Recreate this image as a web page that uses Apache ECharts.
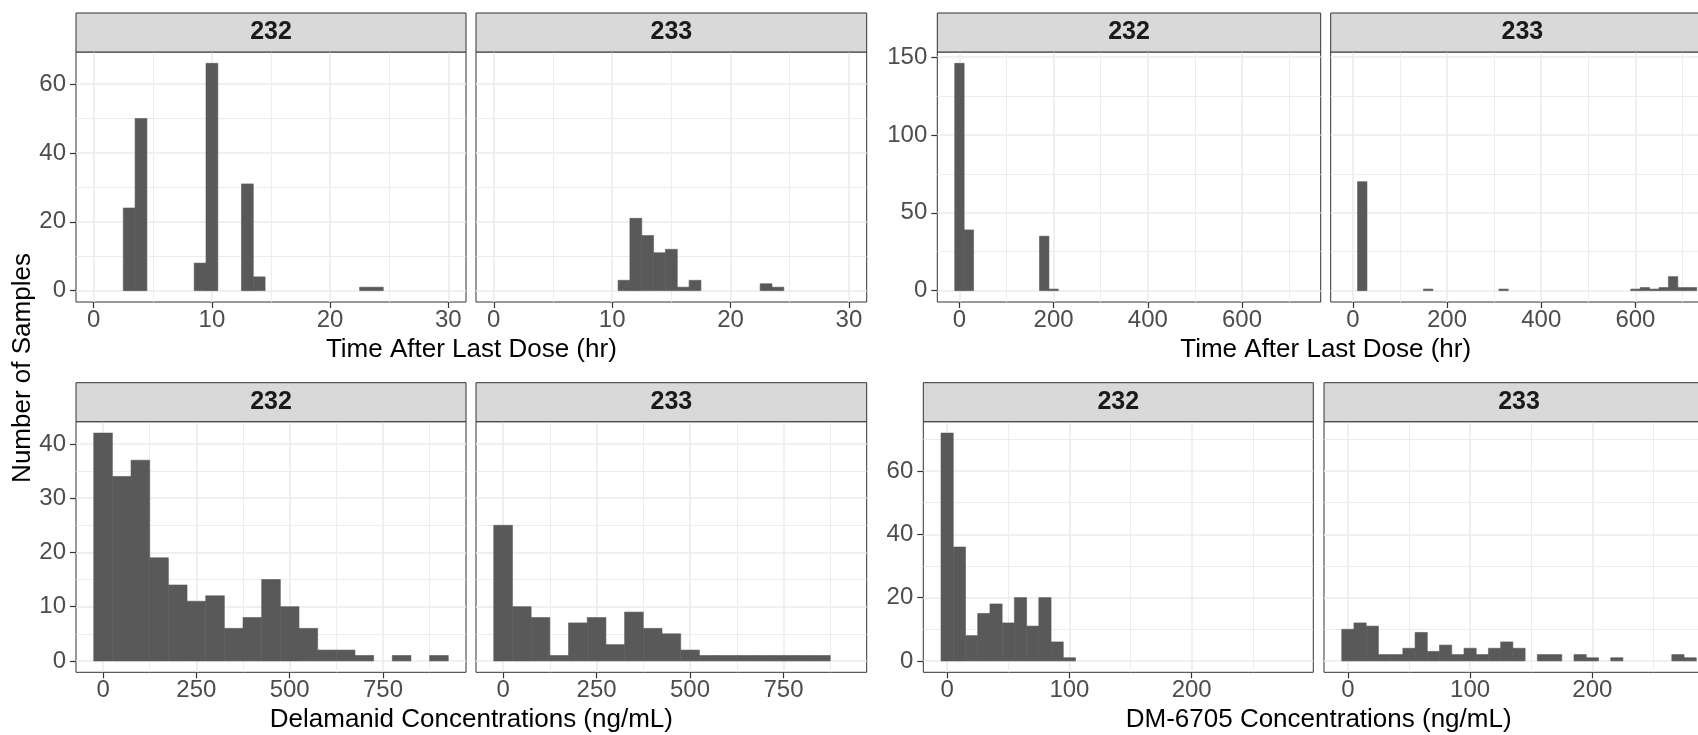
<!DOCTYPE html>
<html>
<head>
<meta charset="utf-8">
<script src="https://cdn.jsdelivr.net/npm/echarts@6/dist/echarts.min.js"></script>
<style>
  html, body { margin: 0; padding: 0; background: #fff; }
  #chart { width: 1698px; height: 735px; }
</style>
</head>
<body>
<div id="chart"></div>
<script>
// ==============================
// data: histogram counts per bin (bin centres = start + i * width)
// ==============================

const studies = ['232', '233'];

// time after last dose, short window (hr) - bin width 1
const tadShortStart = 0;
const tadShortWidth = 1;
const tadShort232 = [0,0,0,24,50,0,0,0,0,8,66,0,0,31,4,0,0,0,0,0,0,0,0,1,1,0,0,0,0,0,0];
const tadShort233 = [0,0,0,0,0,0,0,0,0,0,0,3,21,16,11,12,1,3,0,0,0,0,0,2,1,0,0,0,0,0,0];

// time after last dose, long window (hr) - bin width 20
const tadLongStart = 0;
const tadLongWidth = 20;
const tadLong232 = [146,39, 0,0,0,0,0,0,0, 35,1, 0,0,0,0,0,0,0,0,0,0,0,0,0,0,0,0,0,0,0,0,0,0,0,0,0,0];
const tadLong233 = [0,70, 0,0,0,0,0,0, 1, 0,0,0,0,0,0,0, 1, 0,0,0,0,0,0,0,0,0,0,0,0,0, 1,2,1,2,9,2,2];

// delamanid concentration (ng/mL) - bin width 50
const dlmStart = 0;
const dlmWidth = 50;
const dlm232 = [42,34,37,19,14,11,12,6,8,15,10,6,2,2,1,0,1,0,1];
const dlm233 = [25,10,8,1,7,8,3,9,6,5,2,1,1,1,1,1,1,1,0];

// DM-6705 concentration (ng/mL) - bin width 10
const dmStart = 0;
const dmWidth = 10;
const dm232 = [72,36,8,15,18,12,20,11,20,6,1,0,0,0,0,0,0,0,0,0,0,0,0,0,0,0,0,0,0];
const dm233 = [10,12,11,2,2,4,9,3,5,2,4,2,4,6,4,0,2,2,0,2,1,0,1,0,0,0,0,2,1];

// tick labels
const tadShortTicks = [0, 10, 20, 30];
const tadShortMinor = [5, 15, 25];
const tadShortYTicks = [0, 20, 40, 60];
const tadShortYMinor = [10, 30, 50];

const tadLongTicks = [0, 200, 400, 600];
const tadLongMinor = [100, 300, 500, 700];
const tadLongYTicks = [0, 50, 100, 150];
const tadLongYMinor = [25, 75, 125];

const dlmTicks = [0, 250, 500, 750];
const dlmMinor = [125, 375, 625, 875];
const dlmYTicks = [0, 10, 20, 30, 40];
const dlmYMinor = [5, 15, 25, 35];

const dmTicks = [0, 100, 200];
const dmMinor = [50, 150, 250];
const dmYTicks = [0, 20, 40, 60];
const dmYMinor = [10, 30, 50, 70];

const xTitles = ['Time After Last Dose (hr)', 'Time After Last Dose (hr)', 'Delamanid Concentrations (ng/mL)', 'DM-6705 Concentrations (ng/mL)'];
const yTitle = 'Number of Samples';

// ==============================
// layout
// ==============================

const FONT = 'Liberation Sans, Arial, sans-serif';
const BAR = '#595959';
const GRID_LINE = '#EBEBEB';
const BORDER = '#333333';
const STRIP_H = 39;

// each block: two facets side by side
const blocks = [
  { counts: [tadShort232, tadShort233], start: tadShortStart, width: tadShortWidth,
    xMin: -1.5, xMax: 31.5, yMin: -3.3, yMax: 69.3,
    xTicks: tadShortTicks, xMinor: tadShortMinor, yTicks: tadShortYTicks, yMinor: tadShortYMinor,
    panels: [[76, 390], [476, 390.7]], top: 52, height: 250, title: xTitles[0] },
  { counts: [tadLong232, tadLong233], start: tadLongStart, width: tadLongWidth,
    xMin: -47, xMax: 767, yMin: -7.3, yMax: 153.3,
    xTicks: tadLongTicks, xMinor: tadLongMinor, yTicks: tadLongYTicks, yMinor: tadLongYMinor,
    panels: [[937.3, 383.4], [1330.7, 383.4]], top: 52, height: 250, title: xTitles[1] },
  { counts: [dlm232, dlm233], start: dlmStart, width: dlmWidth,
    xMin: -72.5, xMax: 972.5, yMin: -2.1, yMax: 44.1,
    xTicks: dlmTicks, xMinor: dlmMinor, yTicks: dlmYTicks, yMinor: dlmYMinor,
    panels: [[76, 390], [476, 390.7]], top: 421.7, height: 250.6, title: xTitles[2] },
  { counts: [dm232, dm233], start: dmStart, width: dmWidth,
    xMin: -19.5, xMax: 299.5, yMin: -3.6, yMax: 75.6,
    xTicks: dmTicks, xMinor: dmMinor, yTicks: dmYTicks, yMinor: dmYMinor,
    panels: [[923.3, 390], [1324, 390]], top: 421.7, height: 250.6, title: xTitles[3] }
];

function toBins(counts, start, width) {
  return counts
    .map((c, i) => [start + (i - 0.5) * width, start + (i + 0.5) * width, c])
    .filter(d => d[2] > 0);
}

function renderBin(params, api) {
  const p0 = api.coord([api.value(0), api.value(2)]);
  const p1 = api.coord([api.value(1), 0]);
  return {
    type: 'rect',
    shape: { x: p0[0], y: p0[1], width: p1[0] - p0[0], height: p1[1] - p0[1] },
    // thin same-colour stroke closes the seams between adjacent bins
    style: { fill: BAR, stroke: BAR, lineWidth: 0.6 }
  };
}

const grids = [];
const xAxes = [];
const yAxes = [];
const series = [];
const graphics = [];

blocks.forEach((b, bi) => {
  b.panels.forEach((p, pi) => {
    const gi = grids.length;
    grids.push({
      left: p[0], top: b.top, width: p[1], height: b.height,
      show: true, borderColor: BORDER, borderWidth: 1, backgroundColor: 'transparent',
      outerBoundsMode: 'none', containLabel: false
    });

    // major x axis
    xAxes.push({
      type: 'value', gridIndex: gi, min: b.xMin, max: b.xMax, position: 'bottom',
      axisLine: { show: false, onZero: false },
      axisTick: { show: true, length: 6, customValues: b.xTicks, lineStyle: { color: BORDER, width: 1.2 } },
      axisLabel: { show: true, customValues: b.xTicks, margin: 6, color: '#4D4D4D', fontSize: 24, fontFamily: FONT },
      splitLine: { show: true, lineStyle: { color: GRID_LINE, width: 1.6 } }
    });
    // minor x grid lines
    xAxes.push({
      type: 'value', gridIndex: gi, min: b.xMin, max: b.xMax, position: 'top',
      axisLine: { show: false, onZero: false },
      axisTick: { show: false, customValues: b.xMinor },
      axisLabel: { show: false, customValues: b.xMinor },
      splitLine: { show: true, lineStyle: { color: GRID_LINE, width: 0.9 } }
    });
    // major y axis
    yAxes.push({
      type: 'value', gridIndex: gi, min: b.yMin, max: b.yMax, position: 'left',
      axisLine: { show: false, onZero: false },
      axisTick: { show: pi === 0, length: 6, customValues: b.yTicks, lineStyle: { color: BORDER, width: 1.2 } },
      axisLabel: { show: pi === 0, customValues: b.yTicks, margin: 10, color: '#4D4D4D', fontSize: 24, fontFamily: FONT },
      splitLine: { show: true, lineStyle: { color: GRID_LINE, width: 1.6 } }
    });
    // minor y grid lines
    yAxes.push({
      type: 'value', gridIndex: gi, min: b.yMin, max: b.yMax, position: 'right',
      axisLine: { show: false, onZero: false },
      axisTick: { show: false, customValues: b.yMinor },
      axisLabel: { show: false, customValues: b.yMinor },
      splitLine: { show: true, lineStyle: { color: GRID_LINE, width: 0.9 } }
    });

    series.push({
      type: 'custom',
      name: studies[pi],
      xAxisIndex: gi * 2,
      yAxisIndex: gi * 2,
      renderItem: renderBin,
      encode: { x: [0, 1], y: 2 },
      data: toBins(b.counts[pi], b.start, b.width),
      z: 5
    });

    // facet strip
    graphics.push({
      type: 'rect', z: 50,
      shape: { x: p[0], y: b.top - STRIP_H, width: p[1], height: STRIP_H },
      style: { fill: '#D9D9D9', stroke: BORDER, lineWidth: 1 }
    });
    graphics.push({
      type: 'text', z: 51,
      x: p[0] + p[1] / 2, y: b.top - STRIP_H / 2,
      style: { text: studies[pi], fill: '#1A1A1A', font: 'bold 25px ' + FONT, align: 'center', verticalAlign: 'middle' }
    });
  });

  // x axis title for the block
  const left = b.panels[0][0];
  const right = b.panels[1][0] + b.panels[1][1];
  graphics.push({
    type: 'text', z: 51,
    x: (left + right) / 2, y: b.top + b.height + 48,
    style: { text: b.title, fill: '#000', font: '26px ' + FONT, align: 'center', verticalAlign: 'middle' }
  });
});

graphics.push({
  type: 'text', z: 51,
  x: 23, y: 368, rotation: Math.PI / 2,
  style: { text: yTitle, fill: '#000', font: '26px ' + FONT, align: 'center', verticalAlign: 'middle' }
});

const chart = echarts.init(document.getElementById('chart'));
chart.setOption({
  animation: false,
  backgroundColor: '#fff',
  grid: grids,
  xAxis: xAxes,
  yAxis: yAxes,
  series: series,
  graphic: graphics
});
</script>
</body>
</html>
